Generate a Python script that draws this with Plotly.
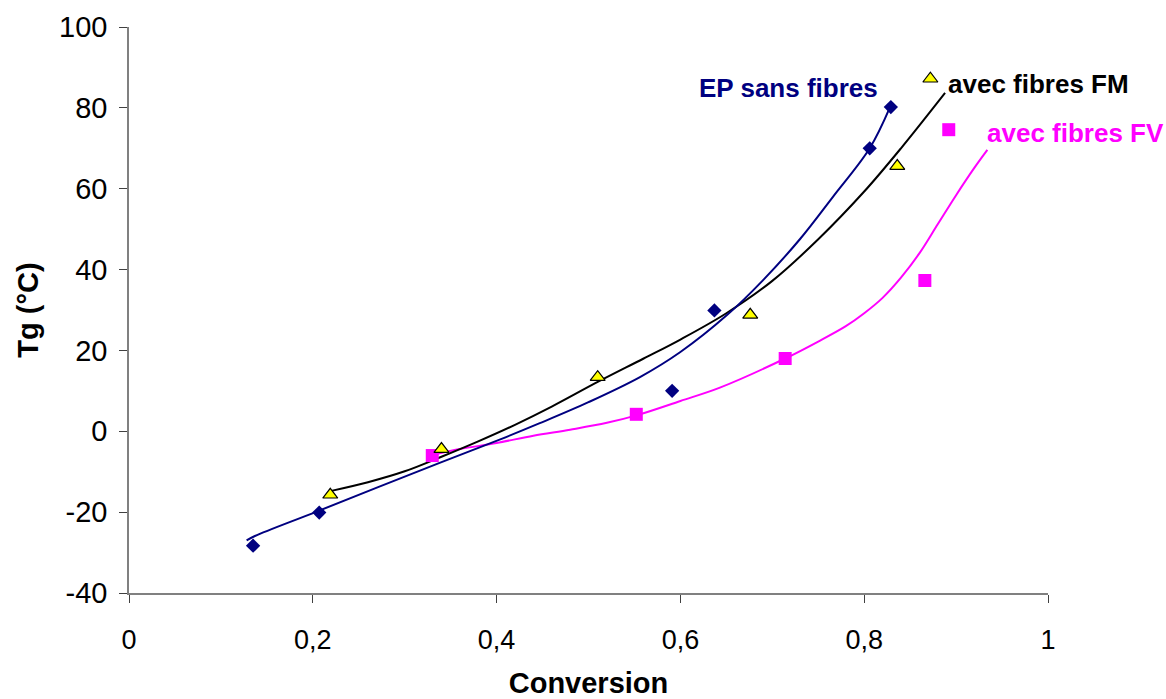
import plotly.graph_objects as go

# ---- data ----
# EP sans fibres (markers)
ep_x = [0.135, 0.207, 0.591, 0.637, 0.806, 0.829]
ep_y = [-28.3, -20.1, 10.0, 29.9, 70.0, 80.2]
# avec fibres FM (markers)
fm_x = [0.219, 0.340, 0.510, 0.676, 0.836, 0.872]
fm_y = [-15.7, -4.4, 13.4, 28.8, 65.6, 87.2]
# avec fibres FV (markers)
fv_x = [0.330, 0.552, 0.714, 0.866, 0.892]
fv_y = [-6.0, 4.2, 18.0, 37.3, 74.6]

# trend curves as drawn in the picture
ep_fit_x = [0.128, 0.137, 0.205, 0.338, 0.404, 0.447, 0.500, 0.556, 0.600, 0.651, 0.690, 0.730, 0.766, 0.806, 0.828]
ep_fit_y = [-27.0, -25.9, -19.8, -7.8, -2.0, 2.0, 7.2, 13.4, 19.6, 28.8, 37.4, 47.5, 58.0, 70.0, 80.1]
fm_fit_x = [0.219, 0.26, 0.30, 0.34, 0.38, 0.42, 0.46, 0.51, 0.56, 0.60, 0.65, 0.70, 0.75, 0.80, 0.84, 0.888]
fm_fit_y = [-14.8, -12.6, -9.9, -6.3, -2.5, 1.6, 6.1, 12.2, 18.0, 22.7, 29.2, 37.2, 47.5, 59.3, 70.0, 83.7]
fv_fit_x = [0.330, 0.36, 0.40, 0.44, 0.48, 0.52, 0.553, 0.60, 0.643, 0.714, 0.75, 0.78, 0.80, 0.82, 0.84, 0.86, 0.88, 0.90, 0.92, 0.934]
fv_fit_y = [-5.9, -4.4, -2.9, -1.1, 0.4, 2.1, 4.0, 7.5, 10.8, 18.0, 22.2, 26.0, 29.2, 33.0, 38.0, 44.0, 51.2, 58.4, 65.2, 69.6]

x_ticks = [0, 0.2, 0.4, 0.6, 0.8, 1]
x_ticktext = ["0", "0,2", "0,4", "0,6", "0,8", "1"]
y_ticks = [-40, -20, 0, 20, 40, 60, 80, 100]
y_ticktext = ["-40", "-20", "0", "20", "40", "60", "80", "100"]

labels = ["EP sans fibres", "avec fibres FM", "avec fibres FV"]

NAVY = "#000080"
MAG = "#FF00FF"
FONT = "Liberation Sans, Arial, sans-serif"

fig = go.Figure()

# curves
fig.add_trace(go.Scatter(x=fv_fit_x, y=fv_fit_y, mode="lines", line=dict(color=MAG, width=2, shape="spline"),
                         hoverinfo="skip", showlegend=False))
fig.add_trace(go.Scatter(x=fm_fit_x, y=fm_fit_y, mode="lines", line=dict(color="black", width=2, shape="spline"),
                         hoverinfo="skip", showlegend=False))
fig.add_trace(go.Scatter(x=ep_fit_x, y=ep_fit_y, mode="lines", line=dict(color=NAVY, width=2, shape="spline"),
                         hoverinfo="skip", showlegend=False))

# markers
fig.add_trace(go.Scatter(x=fv_x, y=fv_y, mode="markers", name=labels[2],
                         marker=dict(symbol="square", size=13, color=MAG, line=dict(width=0)), showlegend=False))
fig.add_trace(go.Scatter(x=ep_x, y=ep_y, mode="markers", name=labels[0],
                         marker=dict(symbol="diamond", size=11, color=NAVY, line=dict(width=0)), showlegend=False))
fig.add_trace(go.Scatter(x=fm_x, y=fm_y, mode="markers", name=labels[1],
                         marker=dict(symbol="triangle-up", size=13, color="#FFFF00", line=dict(width=1.2, color="black")),
                         showlegend=False))

# labels
fig.add_annotation(x=0.718, y=84.9, text="<b>" + labels[0] + "</b>", showarrow=False, xanchor="center", yanchor="middle",
                   font=dict(family=FONT, size=26, color=NAVY))
fig.add_annotation(x=0.889, y=85.9, text="<b>" + labels[1] + "</b>", showarrow=False, xanchor="left", yanchor="middle",
                   font=dict(family=FONT, size=26, color="black"))
fig.add_annotation(x=0.931, y=73.8, text="<b>" + labels[2] + "</b>", showarrow=False, xanchor="left", yanchor="middle",
                   font=dict(family=FONT, size=26, color=MAG))

axis_common = dict(showgrid=False, zeroline=False, showline=True, linecolor="#808080", linewidth=1.5,
                   ticks="outside", ticklen=8, tickcolor="#404040", tickwidth=1, automargin=False)

fig.update_xaxes(range=[0, 1], tickvals=x_ticks, ticktext=x_ticktext, ticklabelstandoff=14,
                 tickfont=dict(family=FONT, size=27, color="black"),
                 title=dict(text="<b>Conversion</b>", font=dict(family=FONT, size=29, color="black"), standoff=29),
                 **axis_common)
fig.update_yaxes(range=[-40, 100], tickvals=y_ticks, ticktext=y_ticktext, ticklabelstandoff=6,
                 tickfont=dict(family=FONT, size=29, color="black"),
                 title=dict(text="<b>Tg (°C)</b>", font=dict(family=FONT, size=29, color="black"), standoff=12),
                 **axis_common)

fig.update_layout(width=1166, height=699, autosize=False,
                  margin=dict(l=129, r=118, t=27, b=106),
                  paper_bgcolor="white", plot_bgcolor="white",
                  font=dict(family=FONT), showlegend=False)

fig.write_html("out.html", config={"displayModeBar": False},
               post_script="document.body.style.margin='0';")
